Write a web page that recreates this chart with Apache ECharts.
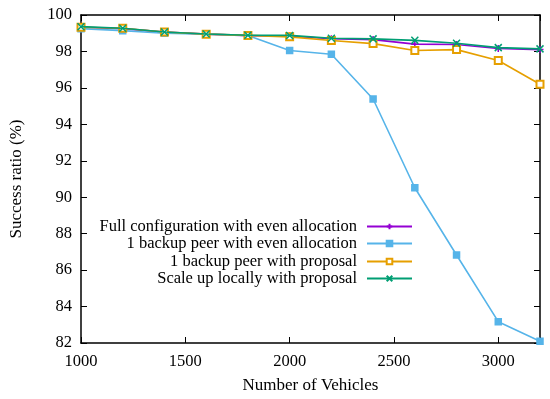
<!DOCTYPE html>
<html><head><meta charset="utf-8">
<script src="https://cdn.jsdelivr.net/npm/echarts@6/dist/echarts.min.js"></script>
<style>html,body{margin:0;padding:0;background:#fff}#c{width:550px;height:399px}</style>
</head><body><div id="c"></div>
<script>
const vehicles = [1000,1200,1400,1600,1800,2000,2200,2400,2600,2800,3000,3200];
const seriesNames = [
  'Full configuration with even allocation',
  '1 backup peer with even allocation',
  '1 backup peer with proposal',
  'Scale up locally with proposal'
];
const fullEven   = [99.33,99.25,99.06,98.95,98.87,98.85,98.70,98.65,98.40,98.38,98.16,98.10];
const backupEven = [99.25,99.14,99.00,98.95,98.88,98.05,97.85,95.39,90.52,86.83,83.17,82.10];
const backupProp = [99.33,99.27,99.07,98.95,98.88,98.80,98.60,98.43,98.05,98.10,97.50,96.20];
const scaleLocal = [99.36,99.27,99.07,98.96,98.89,98.88,98.72,98.69,98.61,98.45,98.21,98.14];
const xTicks = [1000,1500,2000,2500,3000];
const yTicks = [82,84,86,88,90,92,94,96,98,100];

const colors = ['#9400d3','#56b4e9','#e69f00','#009e73'];
const plusPath = 'path://M5,0L5,10M0,5L10,5';
const xPath = 'path://M0,0L10,10M10,0L0,10';
const symbols = [plusPath,'rect','emptyRect',xPath];
const values = [fullEven, backupEven, backupProp, scaleLocal];
const font = 'Liberation Serif';

const series = values.map((v,i)=>({
  name: seriesNames[i],
  type: 'line',
  data: vehicles.map((x,j)=>[x,v[j]]),
  symbol: symbols[i],
  symbolSize: i===1 ? 6 : 7,
  showSymbol: true,
  itemStyle: {color: colors[i], borderColor: colors[i], borderWidth: 1.5},
  lineStyle: {color: colors[i], width: 1.6},
  emphasis: {disabled: true},
  animation: false,
  z: 2+i
}));

const legendTops = [218, 235, 253, 270];
const legends = seriesNames.map((n,i)=>({
  data: [n],
  right: 137,
  top: legendTops[i],
  orient: 'vertical',
  align: 'right',
  padding: 0,
  itemWidth: 45,
  itemHeight: 7,
  selectedMode: false,
  textStyle: {fontFamily: font, fontSize: 16.5, color: '#000', padding: [0,5,0,0]}
}));

const axisCommon = {
  axisLine: {show: true, lineStyle: {color: '#000', width: 1.5}},
  axisTick: {show: true, inside: true, length: 6, lineStyle: {color: '#000', width: 1}},
  splitLine: {show: false}
};

const chart = echarts.init(document.getElementById('c'), null, {renderer: 'canvas'});
chart.setOption({
  animation: false,
  backgroundColor: '#fff',
  grid: {left: 81, right: 10, top: 15, bottom: 55, containLabel: false},
  legend: legends,
  xAxis: [
    Object.assign({type: 'value', min: 1000, max: 3200, interval: 500, position: 'bottom',
      name: 'Number of Vehicles', nameLocation: 'middle', nameGap: 34,
      nameTextStyle: {fontFamily: font, fontSize: 17, color: '#000'},
      axisLabel: {fontFamily: font, fontSize: 16.5, color: '#000', margin: 10,
        formatter: v => xTicks.includes(v) ? String(v) : ''}
    }, axisCommon),
    Object.assign({type: 'value', min: 1000, max: 3200, interval: 500, position: 'top',
      axisLabel: {show: false}}, axisCommon)
  ],
  yAxis: [
    Object.assign({type: 'value', min: 82, max: 100, interval: 2, position: 'left',
      name: 'Success ratio (%)', nameLocation: 'middle', nameGap: 56, nameRotate: 90,
      nameTextStyle: {fontFamily: font, fontSize: 17, color: '#000'},
      axisLabel: {fontFamily: font, fontSize: 16.5, color: '#000', margin: 9,
        formatter: v => yTicks.includes(v) ? String(v) : ''}
    }, axisCommon),
    Object.assign({type: 'value', min: 82, max: 100, interval: 2, position: 'right',
      axisLabel: {show: false}}, axisCommon)
  ],
  series: series
});
</script></body></html>
